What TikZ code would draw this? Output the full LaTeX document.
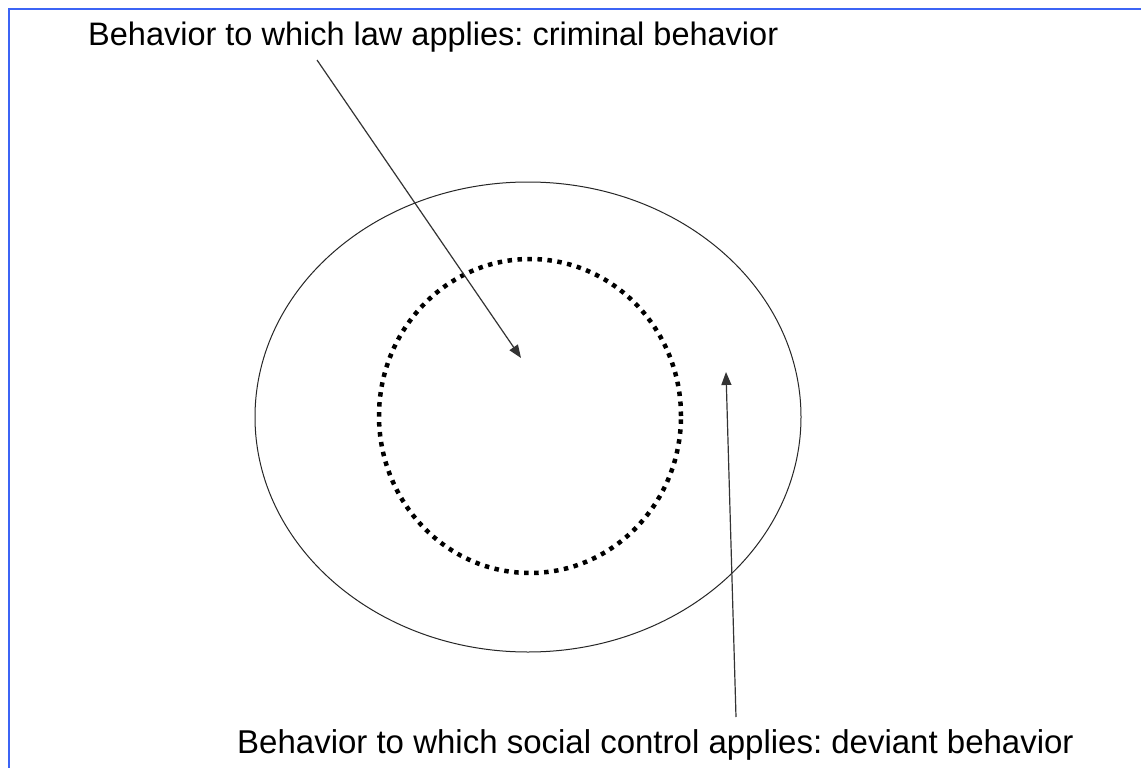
\documentclass[tikz,border=0pt]{standalone}
\usepackage{fontspec}
\setmainfont{Liberation Sans}
\usetikzlibrary{arrows.meta,shapes.geometric}
\frenchspacing
\begin{document}
\begin{tikzpicture}[x=1pt,y=-1pt,
  lbl/.style={anchor=base west,inner sep=0pt,font=\fontsize{32.5}{38}\selectfont},
  arr/.style={draw=black!80,line width=1.2pt,-{Triangle[length=13pt,width=10pt]}},
  outer/.style={draw=black!85,line width=1pt},
  inner/.style={draw=black,line width=4.5pt,dash pattern=on 4.5pt off 5.5pt}]
\useasboundingbox (0,0) rectangle (1141,768);
\fill[white] (0,0) rectangle (1141,768);
\draw[draw={rgb,255:red,60;green,100;blue,245},line width=2pt] (9,768) -- (9,9) -- (1141,9);
\node[outer,ellipse,draw,minimum width=546pt,minimum height=470pt,inner sep=0pt] (E) at (528,417) {};
\node[inner,ellipse,draw,minimum width=302pt,minimum height=314pt,inner sep=0pt] (C) at (530,416) {};
\node[lbl] (t1) at (88,46) {Behavior to which law applies: criminal behavior};
\node[lbl,font=\fontsize{33}{38}\selectfont] (t2) at (237,753) {Behavior to which social control applies: deviant behavior};
\coordinate (a1s) at (317,60);
\coordinate (a1e) at (521,358);
\coordinate (a2s) at (736,717);
\coordinate (a2e) at (726,372);
\draw[arr] (a1s) -- (a1e);
\draw[arr] (a2s) -- (a2e);
\end{tikzpicture}
\end{document}
